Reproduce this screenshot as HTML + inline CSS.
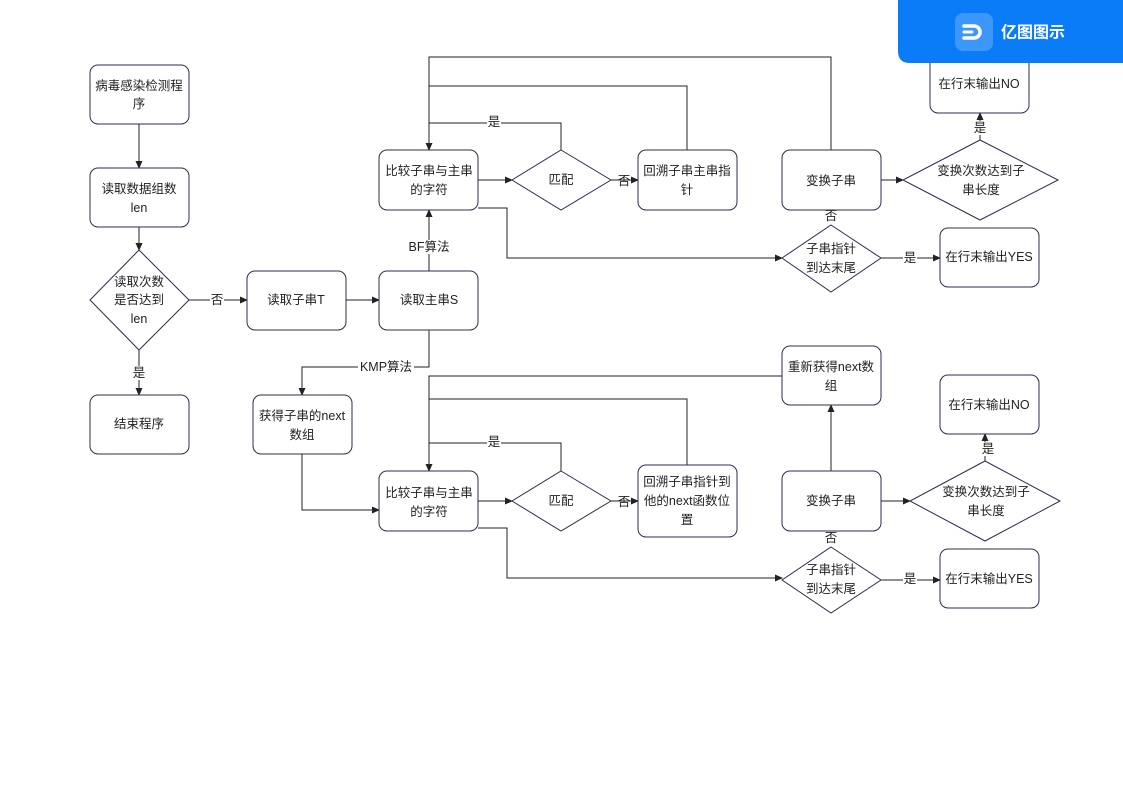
<!DOCTYPE html>
<html><head><meta charset="utf-8"><style>
html,body{margin:0;padding:0;background:#fff;}
svg{display:block;}
text{font-family:"Liberation Sans","Noto Sans CJK SC",sans-serif;font-size:12.5px;fill:#222;text-anchor:middle;dominant-baseline:central;}
.b{fill:#fff;stroke:#2b2d52;stroke-width:1;}
.l{fill:none;stroke:#222;stroke-width:1;}
.lb{fill:#fff;}
</style></head><body>
<svg width="1123" height="794" viewBox="0 0 1123 794">
<defs><marker id="a" markerWidth="8" markerHeight="8" refX="7" refY="4" orient="auto" markerUnits="userSpaceOnUse"><path d="M0,0.5 L8,4 L0,7.5 Z" fill="#222"/></marker></defs>

<g class="l">
<path d="M139,124V168" marker-end="url(#a)"/>
<path d="M139,227V250" marker-end="url(#a)"/>
<path d="M139,350V395" marker-end="url(#a)"/>
<path d="M189,300H247" marker-end="url(#a)"/>
<path d="M346,300H379" marker-end="url(#a)"/>
<path d="M429,271V210" marker-end="url(#a)"/>
<path d="M478,180H512" marker-end="url(#a)"/>
<path d="M611,180H638" marker-end="url(#a)"/>
<path d="M561,150V123H429"/>
<path d="M687,150V86H429"/>
<path d="M831,150V57H429V150" marker-end="url(#a)"/>
<path d="M478,208H507V258H782" marker-end="url(#a)"/>
<path d="M881,258H940" marker-end="url(#a)"/>
<path d="M881,180H903" marker-end="url(#a)"/>
<path d="M980,140V113" marker-end="url(#a)"/>

<path d="M429,330V367H302V395" marker-end="url(#a)"/>
<path d="M302,454V510H379" marker-end="url(#a)"/>
<path d="M782,376H429V471" marker-end="url(#a)"/>
<path d="M687,465V399H429"/>
<path d="M561,471V443H429"/>
<path d="M478,501H512" marker-end="url(#a)"/>
<path d="M611,501H638" marker-end="url(#a)"/>
<path d="M478,528H507V578H782" marker-end="url(#a)"/>
<path d="M831,471V405" marker-end="url(#a)"/>
<path d="M881,580H940" marker-end="url(#a)"/>
<path d="M881,501H910" marker-end="url(#a)"/>
<path d="M985,461V434" marker-end="url(#a)"/>
</g>

<rect class="b" x="90" y="65" width="99" height="59" rx="8"/>
<text x="139" y="86">病毒感染检测程</text><text x="139" y="104">序</text>
<rect class="b" x="90" y="168" width="99" height="59" rx="8"/>
<text x="139" y="189">读取数据组数</text><text x="139" y="208">len</text>
<polygon class="b" points="139,250 189,300 139,350 90,300"/>
<text x="139" y="282">读取次数</text><text x="139" y="300">是否达到</text><text x="139" y="319">len</text>
<rect class="b" x="90" y="395" width="99" height="59" rx="8"/>
<text x="139" y="424">结束程序</text>
<rect class="b" x="247" y="271" width="99" height="59" rx="8"/>
<text x="296" y="300">读取子串T</text>
<rect class="b" x="379" y="271" width="99" height="59" rx="8"/>
<text x="429" y="300">读取主串S</text>

<rect class="b" x="379" y="150" width="99" height="60" rx="8"/>
<text x="429" y="171">比较子串与主串</text><text x="429" y="190">的字符</text>
<polygon class="b" points="561,150 611,180 561,210 512,180"/>
<text x="561" y="180">匹配</text>
<rect class="b" x="638" y="150" width="99" height="60" rx="8"/>
<text x="687" y="171">回溯子串主串指</text><text x="687" y="190">针</text>
<rect class="b" x="782" y="150" width="99" height="60" rx="8"/>
<text x="831" y="181">变换子串</text>
<polygon class="b" points="831,225 881,258 831,292 782,258"/>
<text x="831" y="249">子串指针</text><text x="831" y="268">到达末尾</text>
<rect class="b" x="940" y="228" width="99" height="59" rx="8"/>
<text x="989" y="257">在行末输出YES</text>
<polygon class="b" points="980,140 1058,180 980,220 903,180"/>
<text x="981" y="171">变换次数达到子</text><text x="981" y="190">串长度</text>
<rect class="b" x="930" y="54" width="99" height="59" rx="8"/>
<text x="979" y="84">在行末输出NO</text>

<rect class="b" x="253" y="395" width="99" height="59" rx="8"/>
<text x="302" y="416">获得子串的next</text><text x="302" y="435">数组</text>
<rect class="b" x="379" y="471" width="99" height="60" rx="8"/>
<text x="429" y="493">比较子串与主串</text><text x="429" y="512">的字符</text>
<polygon class="b" points="561,471 611,501 561,531 512,501"/>
<text x="561" y="501">匹配</text>
<rect class="b" x="638" y="465" width="99" height="72" rx="8"/>
<text x="687" y="482">回溯子串指针到</text><text x="687" y="501">他的next函数位</text><text x="687" y="520">置</text>
<rect class="b" x="782" y="346" width="99" height="59" rx="8"/>
<text x="831" y="367">重新获得next数</text><text x="831" y="386">组</text>
<rect class="b" x="782" y="471" width="99" height="60" rx="8"/>
<text x="831" y="501">变换子串</text>
<polygon class="b" points="831,547 881,580 831,613 782,580"/>
<text x="831" y="570">子串指针</text><text x="831" y="589">到达末尾</text>
<rect class="b" x="940" y="549" width="99" height="59" rx="8"/>
<text x="989" y="579">在行末输出YES</text>
<polygon class="b" points="985,461 1060,501 985,541 910,501"/>
<text x="986" y="492">变换次数达到子</text><text x="986" y="511">串长度</text>
<rect class="b" x="940" y="375" width="99" height="59" rx="8"/>
<text x="989" y="405">在行末输出NO</text>

<g>
<rect class="lb" x="132" y="366" width="14" height="14"/><text x="139" y="373">是</text>
<rect class="lb" x="210" y="293" width="14" height="14"/><text x="217" y="300">否</text>
<rect class="lb" x="405" y="240" width="48" height="14"/><text x="429" y="247">BF算法</text>
<rect class="lb" x="487" y="116" width="14" height="14"/><text x="494" y="122">是</text>
<text x="624" y="181">否</text>
<text x="831" y="216">否</text>
<rect class="lb" x="903" y="251" width="14" height="14"/><text x="910" y="258">是</text>
<rect class="lb" x="973" y="121" width="14" height="14"/><text x="980" y="128">是</text>
<rect class="lb" x="358" y="360" width="56" height="14"/><text x="386" y="367">KMP算法</text>
<rect class="lb" x="487" y="436" width="14" height="14"/><text x="494" y="442">是</text>
<text x="624" y="502">否</text>
<text x="831" y="538">否</text>
<rect class="lb" x="903" y="573" width="14" height="14"/><text x="910" y="579">是</text>
<rect class="lb" x="981" y="442" width="14" height="14"/><text x="988" y="449">是</text>
</g>

<path d="M898,0H1123V63H910Q898,63 898,51Z" fill="#0b7cf7"/>
<rect x="955" y="13" width="38" height="38" rx="8" fill="#3d96f9"/>
<path d="M964,26H974A6,6 0 0 1 974,38H964" fill="none" stroke="#fff" stroke-width="3.5" stroke-linecap="round"/>
<path d="M964,32H972" stroke="#fff" stroke-width="3" stroke-linecap="round"/>
<text x="1033" y="33" style="fill:#fff;font-size:16px;font-weight:bold;">亿图图示</text>
</svg>
</body></html>
